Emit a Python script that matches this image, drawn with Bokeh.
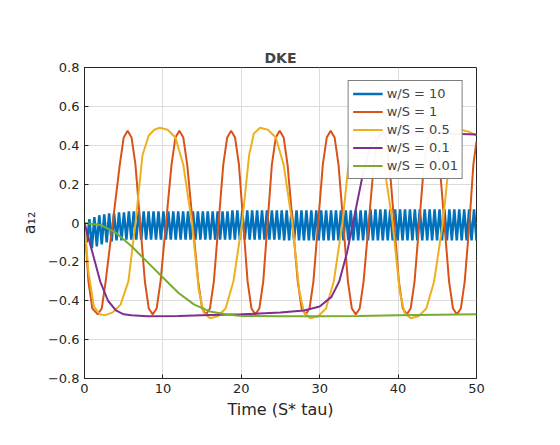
import numpy as np
from bokeh.plotting import figure
from bokeh.models import Range1d, Legend, LegendItem, FixedTicker
from bokeh.embed import file_html
from bokeh.resources import INLINE

# w/S = 10 : fast oscillation, successive crest / trough values
blue_hi = [0.00, 0.02, 0.03, 0.04, 0.045, 0.05, 0.05, 0.055, 0.055, 0.06,
           0.06, 0.06, 0.06, 0.06, 0.06, 0.06, 0.06, 0.06, 0.06, 0.06,
           0.06, 0.06, 0.06, 0.06, 0.06, 0.06, 0.06, 0.06, 0.06, 0.06,
           0.065, 0.065, 0.065, 0.065, 0.065, 0.065, 0.065, 0.065, 0.065, 0.065,
           0.065, 0.065, 0.065, 0.065, 0.065, 0.065, 0.065, 0.065, 0.065, 0.065,
           0.065, 0.065, 0.065, 0.065, 0.065, 0.065, 0.065, 0.065, 0.07, 0.07,
           0.07, 0.07, 0.07, 0.07, 0.07, 0.07, 0.07, 0.07, 0.07, 0.07,
           0.07, 0.07, 0.07, 0.07, 0.07, 0.07, 0.07, 0.07, 0.07, 0.07]
blue_lo = [-0.10, -0.13, -0.12, -0.11, -0.10, -0.095, -0.09, -0.09, -0.085, -0.085,
           -0.085, -0.085, -0.085, -0.085, -0.085, -0.085, -0.085, -0.085, -0.085, -0.085,
           -0.085, -0.085, -0.085, -0.085, -0.085, -0.085, -0.085, -0.085, -0.085, -0.085,
           -0.085, -0.085, -0.085, -0.085, -0.085, -0.085, -0.085, -0.085, -0.085, -0.085,
           -0.09, -0.09, -0.09, -0.09, -0.09, -0.09, -0.09, -0.09, -0.09, -0.09,
           -0.09, -0.09, -0.09, -0.09, -0.09, -0.09, -0.09, -0.09, -0.09, -0.09,
           -0.09, -0.09, -0.09, -0.09, -0.09, -0.09, -0.09, -0.09, -0.09, -0.09,
           -0.09, -0.09, -0.09, -0.09, -0.09, -0.09, -0.09, -0.09, -0.09, -0.09]

# w/S = 1
red_t = [0, 0.5, 1.0, 1.7,
         2.2, 2.7, 3.6, 4.5, 5.0, 5.5,
         6.0, 6.5, 7.1, 7.7, 8.2, 8.7,
         9.2, 9.7, 10.4, 11.1, 11.6, 12.1,
         12.6, 13.1, 13.8, 14.5, 15.0, 15.5,
         16.0, 16.5, 17.1, 17.7, 18.2, 18.7,
         19.2, 19.7, 20.25, 20.8, 21.3, 21.8,
         22.3, 22.8, 23.35, 23.9, 24.4, 24.9,
         25.4, 25.9, 26.55, 27.2, 27.7, 28.2,
         28.7, 29.2, 29.8, 30.4, 30.9, 31.4,
         31.9, 32.4, 33.0, 33.6, 34.1, 34.6,
         35.1, 35.6, 36.25, 36.9, 37.4, 37.9,
         38.4, 38.9, 39.5, 40.1, 40.6, 41.1,
         41.6, 42.1, 42.7, 43.3, 43.8, 44.3,
         44.8, 45.3, 45.9, 46.5, 47.0, 47.5,
         48.0, 48.5, 49.1, 49.6, 50.0]
red_up = [-0.44, -0.3, 0, 0.3, 0.44, 0.475]
red_down = [0.44, 0.3, 0, -0.3, -0.44, -0.47]
red_y = ([0, -0.3, -0.44, -0.47] + red_up + red_down + red_up + red_down + red_up
         + red_down + red_up + red_down + red_up + red_down + red_up + red_down
         + red_up + red_down + [-0.44, -0.3, 0, 0.3, 0.42])

# w/S = 0.5
yel_t = [0, 0.5, 1.2, 2.0, 2.6, 3.6, 4.6, 5.6, 6.5, 7.4, 8.2, 8.9, 9.6, 10.6, 11.6, 12.6,
         13.7, 14.6, 15.2, 16.0, 17.0, 18.0, 19.0, 20.1, 21.0, 21.6, 22.4,
         23.4, 24.4, 25.4, 26.5, 27.4, 28.0, 28.8, 29.8, 30.8, 31.8, 32.9, 33.8,
         34.4, 35.2, 36.2, 37.2, 38.2, 39.3, 40.2, 40.8, 41.6, 42.6, 43.6, 44.6,
         45.7, 46.6, 47.2, 48.0, 49.0, 50.0]
yel_y = [0, -0.25, -0.43, -0.47, -0.475, -0.46, -0.42, -0.3, 0, 0.35, 0.45, 0.48, 0.49, 0.48, 0.44, 0.3,
         0, -0.35, -0.46, -0.49, -0.48, -0.44, -0.3, 0, 0.35, 0.46, 0.49,
         0.48, 0.44, 0.3, 0, -0.35, -0.46, -0.49, -0.48, -0.44, -0.3, 0, 0.35,
         0.46, 0.49, 0.48, 0.44, 0.3, 0, -0.35, -0.46, -0.49, -0.48, -0.44, -0.3,
         0, 0.35, 0.46, 0.48, 0.47, 0.45]

# w/S = 0.1
pur_t = [0, 1, 2, 3, 4, 5, 6, 8, 12, 15, 20, 25, 28, 30, 31.5, 32.5, 33.5,
         34.5, 35.5, 36.5, 38, 42, 46, 50]
pur_y = [0, -0.15, -0.3, -0.4, -0.45, -0.47, -0.475, -0.48, -0.478, -0.475, -0.47,
         -0.46, -0.45, -0.43, -0.38, -0.3, -0.15, 0.05, 0.25, 0.4, 0.46, 0.465, 0.46, 0.455]

# w/S = 0.01
grn_t = [0, 2, 4, 6, 8, 10, 12, 14, 16, 18, 20, 25, 30, 35, 40, 45, 50]
grn_y = [0, -0.01, -0.05, -0.12, -0.2, -0.28, -0.36, -0.42, -0.455, -0.47, -0.478,
         -0.48, -0.48, -0.478, -0.475, -0.472, -0.47]

blue_t = np.linspace(0, 50, 2 * len(blue_hi))
blue_y = [v for pair in zip(blue_hi, blue_lo) for v in pair]

p = figure(width=544, height=429, frame_width=392, frame_height=311,
           output_backend="svg", toolbar_location=None,
           x_range=Range1d(0, 50), y_range=Range1d(-0.8, 0.8),
           min_border_left=84, min_border_right=68, min_border_top=67, min_border_bottom=51,
           title="DKE")
p.title.align = "center"
p.title.text_font = "DejaVu Sans"
p.title.text_font_size = "14px"
p.title.text_font_style = "bold"
p.title.standoff = 4
p.background_fill_color = "white"
p.border_fill_color = "white"
p.outline_line_color = "#262626"

lines = []
lines.append(p.line(blue_t, blue_y, color="#0072BD", line_width=2.5))
lines.append(p.line(red_t, red_y, color="#D95319", line_width=2))
lines.append(p.line(yel_t, yel_y, color="#EDB120", line_width=2))
lines.append(p.line(pur_t, pur_y, color="#7E2F8E", line_width=2))
lines.append(p.line(grn_t, grn_y, color="#77AC30", line_width=2))

labels = ["w/S = 10", "w/S = 1", "w/S = 0.5", "w/S = 0.1", "w/S = 0.01"]
legend = Legend(items=[LegendItem(label=l, renderers=[r]) for l, r in zip(labels, lines)],
                location="top_right", label_text_font="DejaVu Sans", label_text_font_size="13px",
                border_line_color="black", label_height=17, glyph_height=17, spacing=1,
                padding=4, margin=13, glyph_width=30, label_standoff=4)
p.add_layout(legend)

p.xaxis.ticker = FixedTicker(ticks=[0, 10, 20, 30, 40, 50])
p.yaxis.ticker = FixedTicker(ticks=[-0.8, -0.6, -0.4, -0.2, 0, 0.2, 0.4, 0.6, 0.8])
p.xaxis.axis_label = "Time (S* tau)"
p.yaxis.axis_label = "a₁₂"
for ax in (p.xaxis, p.yaxis):
    ax.major_label_text_font = "DejaVu Sans"
    ax.major_label_text_font_size = "13px"
    ax.major_label_text_color = "#262626"
    ax.axis_label_text_font = "DejaVu Sans"
    ax.axis_label_text_font_size = "16px"
    ax.axis_label_text_font_style = "normal"
    ax.axis_label_text_color = "#262626"
    ax.major_tick_in = 4
    ax.major_tick_out = 0
    ax.minor_tick_line_color = None
    ax.axis_line_color = "#262626"
    ax.major_tick_line_color = "#262626"
p.xaxis.axis_label_standoff = 4
p.yaxis.axis_label_standoff = 6
p.grid.grid_line_color = "#dcdcdc"

out = open("out.html", "w")
out.write(file_html(p, INLINE))
out.close()
